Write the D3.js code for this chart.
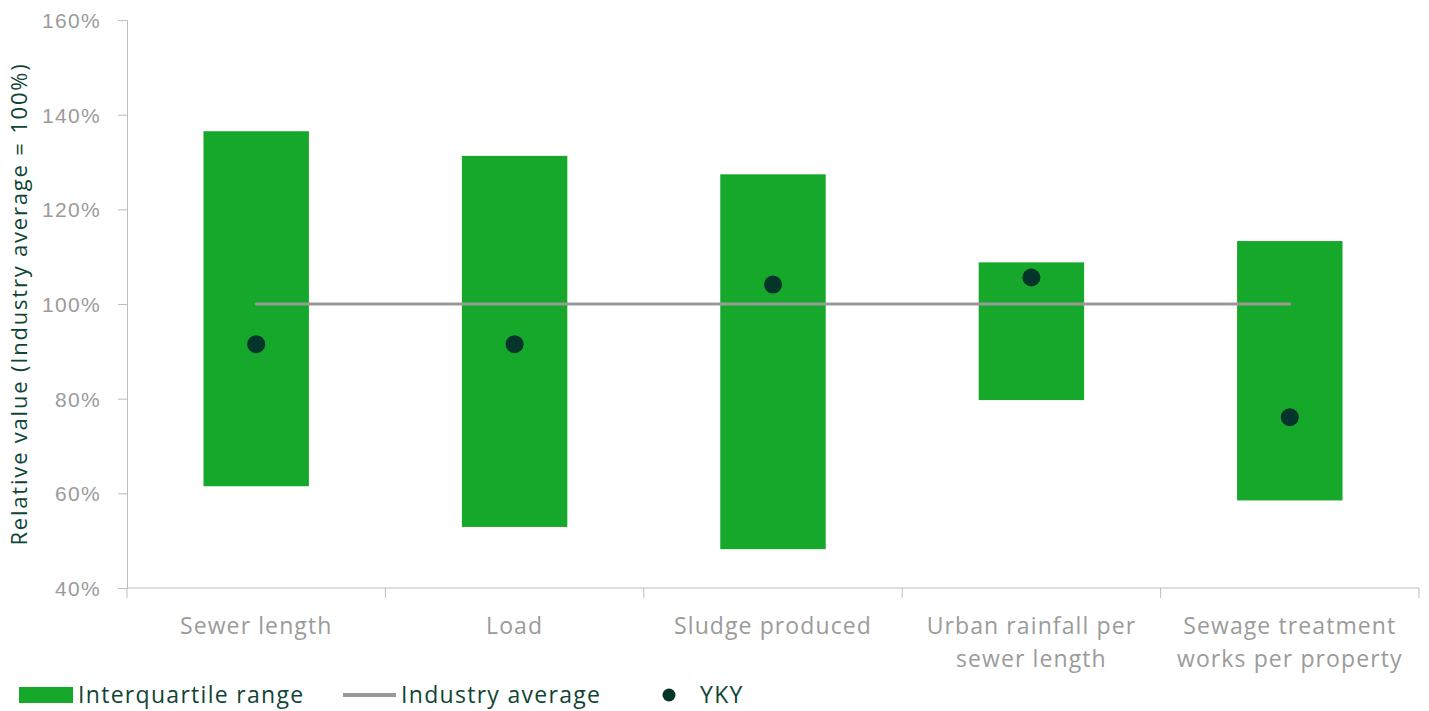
<!DOCTYPE html>
<html>
<head>
<meta charset="utf-8">
<script src="https://cdn.jsdelivr.net/npm/d3@7"></script>
<style>
  body { margin: 0; background: #fff; }
  svg { display: block; font-family: "Open Sans", Lato, sans-serif; }
</style>
</head>
<body>
<div id="chart"></div>
<script>
var categories = [
  ['Sewer length'],
  ['Load'],
  ['Sludge produced'],
  ['Urban rainfall per', 'sewer length'],
  ['Sewage treatment', 'works per property']
];
var iqrLow  = [61.5, 52.9, 48.2, 79.7, 58.5];
var iqrHigh = [136.5, 131.3, 127.4, 108.8, 113.3];
var yky     = [91.5, 91.5, 104.1, 105.6, 76.1];
var industryAvg = 100;
var yTicks = [40, 60, 80, 100, 120, 140, 160];

var width = 1429, height = 711;
var margin = {left: 127, right: 10, top: 20, bottom: 123};

var green = '#16a82a', grey = '#999999', dark = '#04342a', textGrey = '#9b9b9b', titleGreen = '#0f4535';

var svg = d3.select('#chart').append('svg')
  .attr('width', width)
  .attr('height', height);

var x = d3.scaleBand()
  .domain(d3.range(categories.length))
  .range([margin.left, width - margin.right])
  .paddingInner(0)
  .paddingOuter(0);

var y = d3.scaleLinear()
  .domain([40, 160])
  .range([height - margin.bottom, margin.top]);

// y axis
var yAxis = svg.append('g')
  .attr('transform', 'translate(' + margin.left + ',0)')
  .call(d3.axisLeft(y).tickValues(yTicks).tickSize(9).tickPadding(17)
    .tickFormat(function(d) { return d + '%'; }));
yAxis.selectAll('path, line').attr('stroke', '#bdbdbd');
yAxis.selectAll('text').attr('fill', textGrey).style('font-size', '21px')
  .style('letter-spacing', '1.3px').attr('dy', '0.35em');

// x axis: ticks at band edges
var xAxis = svg.append('g')
  .attr('transform', 'translate(0,' + y(40) + ')');
xAxis.append('line')
  .attr('x1', margin.left).attr('x2', width - margin.right)
  .attr('stroke', '#bdbdbd');
xAxis.selectAll('.tick')
  .data(d3.range(categories.length + 1))
  .enter().append('line')
  .attr('x1', function(i) { return i < categories.length ? x(i) : x(i - 1) + x.bandwidth(); })
  .attr('x2', function(i) { return i < categories.length ? x(i) : x(i - 1) + x.bandwidth(); })
  .attr('y1', 0).attr('y2', 10)
  .attr('stroke', '#bdbdbd');

var labels = xAxis.selectAll('.lbl')
  .data(categories)
  .enter().append('text')
  .attr('class', 'lbl')
  .attr('text-anchor', 'middle')
  .attr('fill', textGrey)
  .style('font-size', '23px')
  .style('letter-spacing', '1.1px')
  .attr('transform', function(d, i) { return 'translate(' + (x(i) + x.bandwidth() / 2) + ',46)'; });
labels.selectAll('tspan')
  .data(function(d) { return d; })
  .enter().append('tspan')
  .attr('x', 0)
  .attr('dy', function(d, j) { return j === 0 ? 0 : 33; })
  .text(function(d) { return d; });

// axis title
svg.append('text')
  .attr('transform', 'translate(27,' + y(100) + ') rotate(-90)')
  .attr('text-anchor', 'middle')
  .attr('fill', titleGreen)
  .style('font-size', '22px')
  .style('letter-spacing', '1.8px')
  .text('Relative value (Industry average = 100%)');

// bars
var barW = x.bandwidth() * 0.408;
svg.selectAll('.bar')
  .data(iqrLow)
  .enter().append('rect')
  .attr('x', function(d, i) { return x(i) + x.bandwidth() / 2 - barW / 2; })
  .attr('y', function(d, i) { return y(iqrHigh[i]); })
  .attr('width', barW)
  .attr('height', function(d, i) { return y(d) - y(iqrHigh[i]); })
  .attr('fill', green);

// industry average line
svg.append('line')
  .attr('x1', x(0) + x.bandwidth() / 2)
  .attr('x2', x(categories.length - 1) + x.bandwidth() / 2)
  .attr('y1', y(industryAvg)).attr('y2', y(industryAvg))
  .attr('stroke', grey)
  .attr('stroke-width', 3)
  .attr('stroke-linecap', 'round');

// YKY dots
svg.selectAll('.dot')
  .data(yky)
  .enter().append('circle')
  .attr('cx', function(d, i) { return x(i) + x.bandwidth() / 2; })
  .attr('cy', function(d) { return y(d); })
  .attr('r', 9)
  .attr('fill', dark);

// legend
var legend = svg.append('g').attr('transform', 'translate(0,695)')
  .style('font-size', '23px').style('letter-spacing', '1.3px');
legend.append('rect').attr('x', 19).attr('y', -8).attr('width', 54).attr('height', 16).attr('fill', green);
legend.append('text').attr('x', 78).attr('dy', '0.35em').attr('fill', titleGreen)
  .text('Interquartile range');
legend.append('line').attr('x1', 343).attr('x2', 396).attr('stroke', grey).attr('stroke-width', 4);
legend.append('text').attr('x', 401).attr('dy', '0.35em').attr('fill', titleGreen)
  .text('Industry average');
legend.append('circle').attr('cx', 669).attr('r', 6.5).attr('fill', dark);
legend.append('text').attr('x', 700).attr('dy', '0.35em').attr('fill', titleGreen)
  .text('YKY');
</script>
</body>
</html>
